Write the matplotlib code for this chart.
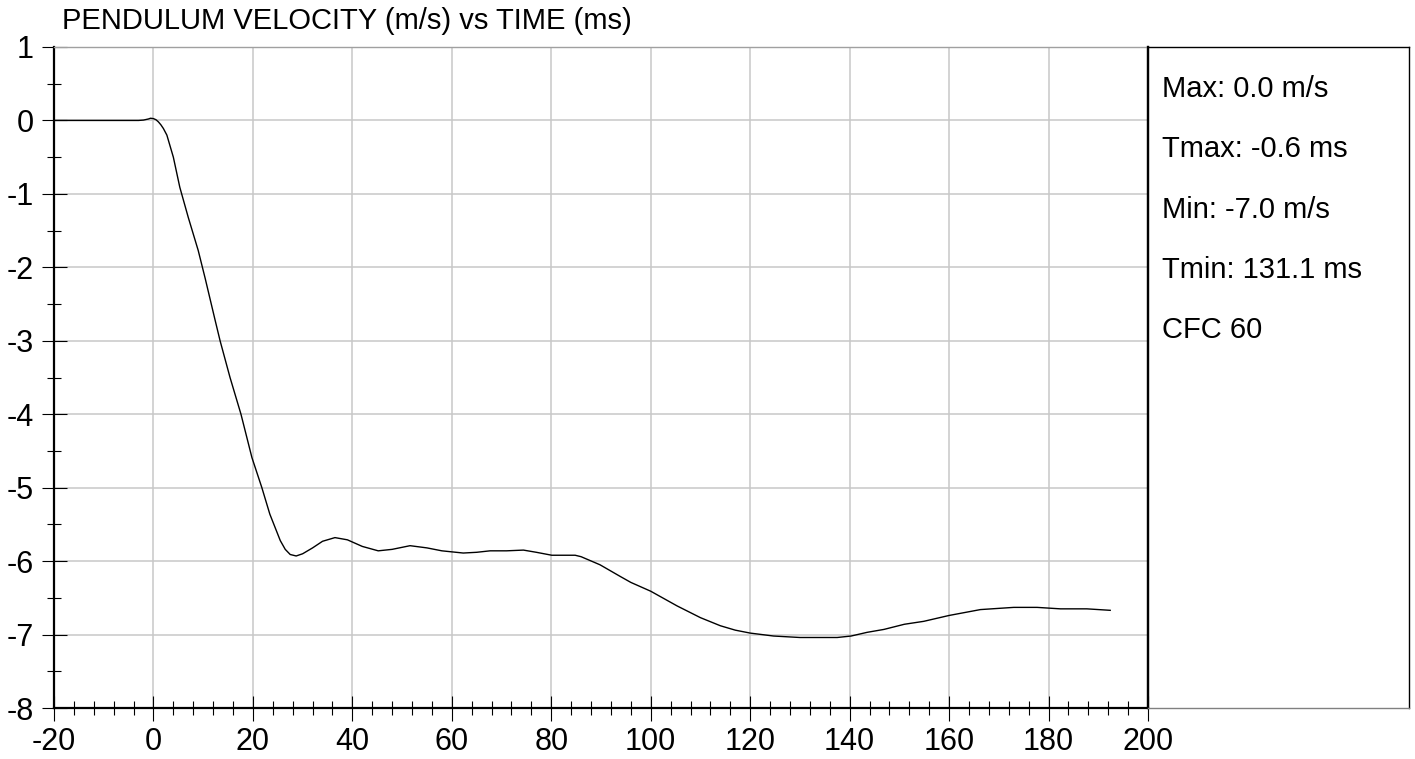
import matplotlib
matplotlib.use("Agg")
import matplotlib.pyplot as plt
from matplotlib.ticker import MultipleLocator

plt.rcParams['font.family'] = ['Liberation Sans', 'DejaVu Sans']
plt.rcParams['axes.unicode_minus'] = False

# Pendulum velocity trace (time in ms, velocity in m/s)
time_ms = [-20, -10, -5, -3, -2, -1, -0.6, 0, 0.5, 1, 1.5, 2, 2.7, 4, 5.3, 7, 9,
           10.4, 12.4, 13.4, 15.4, 17.6, 19.8, 21.8, 23.4, 25.5, 26.5, 27.5, 28.7,
           30, 32, 34, 36.5, 39, 42, 45.2, 48, 51.6, 55, 58, 62.3, 65, 67.7, 71,
           74.4, 77, 80.1, 82, 84.8, 86, 89.8, 93.9, 96, 100, 105.3, 110, 114, 117,
           120, 124.7, 130, 134, 137.5, 140.3, 143.5, 146.9, 151, 154.9, 160, 166.3,
           173, 177.7, 182.4, 187.7, 192.4]
velocity = [0, 0, 0, 0, 0.005, 0.02, 0.03, 0.025, 0.01, -0.02, -0.06, -0.11, -0.2,
            -0.5, -0.91, -1.32, -1.77, -2.15, -2.72, -3.0, -3.50, -4.0, -4.59, -5.0,
            -5.36, -5.72, -5.84, -5.91, -5.93, -5.90, -5.82, -5.73, -5.68, -5.71,
            -5.80, -5.86, -5.84, -5.79, -5.82, -5.86, -5.89, -5.88, -5.86, -5.86,
            -5.85, -5.88, -5.92, -5.92, -5.92, -5.94, -6.05, -6.21, -6.29, -6.41,
            -6.61, -6.77, -6.88, -6.94, -6.98, -7.02, -7.04, -7.04, -7.04, -7.02,
            -6.97, -6.93, -6.86, -6.82, -6.74, -6.66, -6.63, -6.63, -6.65, -6.65,
            -6.67]

title = "PENDULUM VELOCITY (m/s) vs TIME (ms)"
stats = ["Max: 0.0 m/s", "Tmax: -0.6 ms", "Min: -7.0 m/s", "Tmin: 131.1 ms", "CFC 60"]

W, H = 1415, 759
fig = plt.figure(figsize=(W / 100, H / 100), dpi=100)

x0, x1, y0, y1 = 54, 1148, 47, 708
ax = fig.add_axes([x0 / W, 1 - y1 / H, (x1 - x0) / W, (y1 - y0) / H])

grid_c = '#c8c8c8'
ax.plot(time_ms, velocity, color='black', lw=1.0, zorder=3)
ax.set_xlim(-20, 200)
ax.set_ylim(-8, 1)

ax.xaxis.set_major_locator(MultipleLocator(20))
ax.xaxis.set_minor_locator(MultipleLocator(4))
ax.yaxis.set_major_locator(MultipleLocator(1))
ax.yaxis.set_minor_locator(MultipleLocator(0.5))

ax.grid(True, which='major', color=grid_c, lw=1.1, zorder=0)
ax.tick_params(axis='both', which='major', direction='inout', length=18,
               width=0.8, labelsize=22, color='black')
ax.tick_params(axis='both', which='minor', direction='inout', length=10,
               width=0.8, color='black')
ax.tick_params(axis='x', which='major', pad=5)
ax.tick_params(axis='y', which='major', pad=5.5)

for side in ('left', 'bottom', 'right'):
    ax.spines[side].set_color('black')
    ax.spines[side].set_linewidth(1.6)
ax.spines['top'].set_color('#a0a0a0')
ax.spines['top'].set_linewidth(1.0)

# Statistics panel to the right of the plot
px1 = 1409
pan = fig.add_axes([x1 / W, 1 - y1 / H, (px1 - x1) / W, (y1 - y0) / H])
pan.set_xticks([])
pan.set_yticks([])
pan.set_xlim(0, px1 - x1)
pan.set_ylim(y1, y0)
pan.spines['left'].set_linewidth(1.6)
pan.spines['top'].set_linewidth(1.0)
pan.spines['right'].set_linewidth(1.0)
pan.spines['bottom'].set_color('#808080')
pan.spines['bottom'].set_linewidth(1.0)
pan.patch.set_alpha(0)

for i, s in enumerate(stats):
    pan.text(14, 89 + i * 60.3, s, fontsize=21, va='center', ha='left')

fig.text(62 / W, 1 - 29 / H, title, fontsize=21, ha='left', va='baseline')

fig.savefig("out.png", dpi=100)
